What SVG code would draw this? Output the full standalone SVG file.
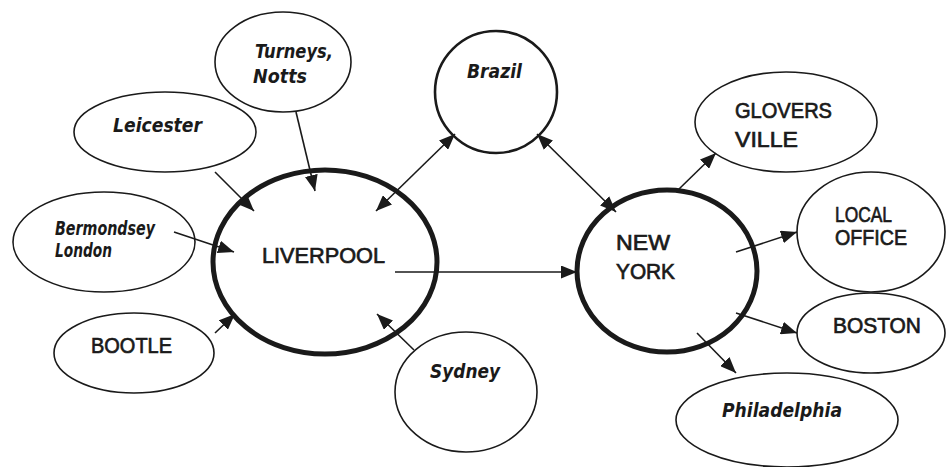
<svg xmlns="http://www.w3.org/2000/svg" width="946" height="467" viewBox="0 0 946 467">
<defs>
<marker id="ah" markerUnits="userSpaceOnUse" markerWidth="17" markerHeight="13" refX="16" refY="6.5" orient="auto-start-reverse">
<path d="M0,0 L16,6.5 L0,13 z" fill="#1a1a1a"/>
</marker>
<style>
.thin{fill:#fff;stroke:#1a1a1a;stroke-width:1.6}
.mid{fill:#fff;stroke:#1a1a1a;stroke-width:2.6}
.thick{fill:none;stroke:#1a1a1a;stroke-width:5}
.lbl{font-family:"DejaVu Sans","Liberation Sans",sans-serif;font-size:20px;fill:#1a1a1a}
.cap{font-family:"Liberation Sans","DejaVu Sans",sans-serif;font-size:22px;fill:#1a1a1a;stroke:#1a1a1a;stroke-width:0.7}
.it{font-style:italic;font-weight:bold}
.c{stroke:#1a1a1a;stroke-width:1.6;fill:none;marker-end:url(#ah)}
.cb{marker-start:url(#ah)}
</style>
</defs>
<rect width="946" height="467" fill="#fff"/>
<g id="turneys"><ellipse class="thin" cx="283" cy="62" rx="68" ry="50"/>
<text class="lbl it" x="255" y="58" textLength="78" lengthAdjust="spacingAndGlyphs">Turneys,</text>
<text class="lbl it" x="253" y="83" textLength="54" lengthAdjust="spacingAndGlyphs">Notts</text></g>
<g id="leicester"><ellipse class="thin" cx="165" cy="132" rx="91" ry="40"/>
<text class="lbl it" x="113" y="132" textLength="89" lengthAdjust="spacingAndGlyphs">Leicester</text></g>
<g id="bermondsey"><ellipse class="thin" cx="104" cy="242" rx="91" ry="50"/>
<text class="lbl it" x="55" y="235" textLength="100" lengthAdjust="spacingAndGlyphs">Bermondsey</text>
<text class="lbl it" x="55" y="257" textLength="57" lengthAdjust="spacingAndGlyphs">London</text></g>
<g id="bootle"><ellipse class="thin" cx="134" cy="353" rx="80" ry="40"/>
<text class="cap" x="91" y="353" textLength="81" lengthAdjust="spacingAndGlyphs">BOOTLE</text></g>
<g id="sydney"><ellipse class="thin" cx="466" cy="392" rx="71" ry="60"/>
<text class="lbl it" x="430" y="378" textLength="70" lengthAdjust="spacingAndGlyphs">Sydney</text></g>
<g id="brazil"><ellipse class="mid" cx="496" cy="92" rx="61" ry="61"/>
<text class="lbl it" x="467" y="78" textLength="55" lengthAdjust="spacingAndGlyphs">Brazil</text></g>
<g id="glovers"><ellipse class="thin" cx="786" cy="122" rx="91" ry="50"/>
<text class="cap" x="735" y="118" textLength="97" lengthAdjust="spacingAndGlyphs">GLOVERS</text>
<text class="cap" x="735" y="147" textLength="63" lengthAdjust="spacingAndGlyphs">VILLE</text></g>
<g id="local"><ellipse class="thin" cx="871" cy="232" rx="74" ry="60"/>
<text class="cap" x="835" y="222" textLength="57" lengthAdjust="spacingAndGlyphs">LOCAL</text>
<text class="cap" x="835" y="245" textLength="72" lengthAdjust="spacingAndGlyphs">OFFICE</text></g>
<g id="boston"><ellipse class="thin" cx="871" cy="333" rx="74" ry="40"/>
<text class="cap" x="833" y="333" textLength="88" lengthAdjust="spacingAndGlyphs">BOSTON</text></g>
<g id="philadelphia"><ellipse class="thin" cx="787" cy="420" rx="111" ry="47"/>
<text class="lbl it" x="722" y="417" textLength="120" lengthAdjust="spacingAndGlyphs">Philadelphia</text></g>
<g id="liverpool"><ellipse class="thick" cx="325" cy="262" rx="112" ry="92"/>
<text class="cap" x="262" y="263" textLength="123" lengthAdjust="spacingAndGlyphs">LIVERPOOL</text></g>
<g id="newyork"><ellipse class="thick" cx="667" cy="271" rx="90" ry="81"/>
<text class="cap" x="616" y="250" textLength="54" lengthAdjust="spacingAndGlyphs">NEW</text>
<text class="cap" x="616" y="279" textLength="59" lengthAdjust="spacingAndGlyphs">YORK</text></g>
<g id="connectors">
<line class="c" x1="296" y1="112" x2="315" y2="191"/>
<line class="c" x1="215" y1="172" x2="254" y2="211"/>
<line class="c" x1="174" y1="232" x2="234" y2="252"/>
<line class="c" x1="215" y1="333" x2="235" y2="314"/>
<line class="c" x1="414" y1="350" x2="377" y2="314"/>
<line class="c" x1="395" y1="272" x2="577" y2="272"/>
<line class="c cb" x1="376" y1="211" x2="455" y2="134"/>
<line class="c cb" x1="537" y1="134" x2="616" y2="212"/>
<line class="c" x1="678" y1="190" x2="716" y2="153"/>
<line class="c" x1="736" y1="252" x2="797" y2="232"/>
<line class="c" x1="736" y1="313" x2="797" y2="333"/>
<line class="c" x1="697" y1="333" x2="736" y2="373"/>
</g>
</svg>
